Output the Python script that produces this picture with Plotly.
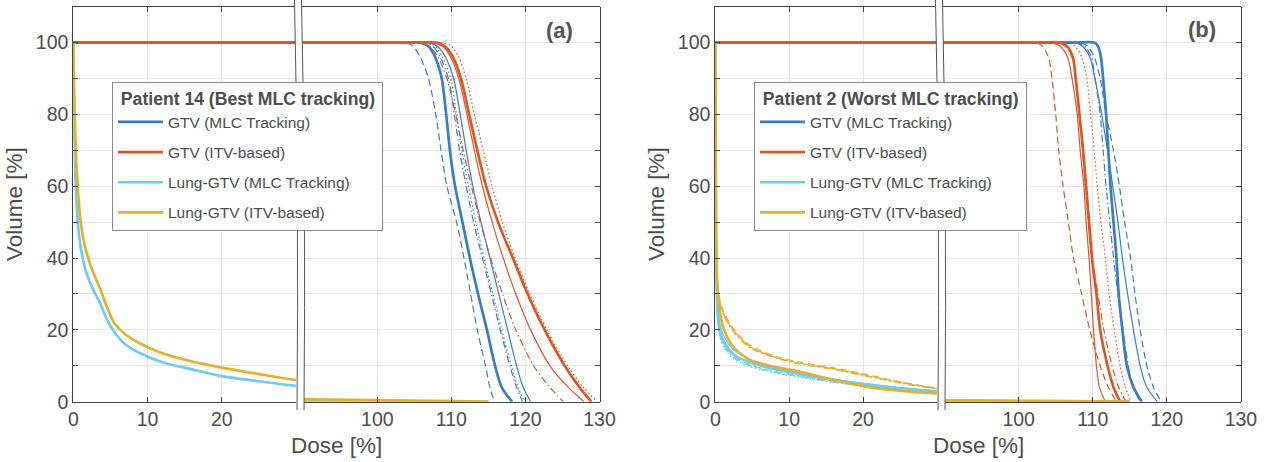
import plotly.graph_objects as go

# ---------------- data ----------------
GTV_LEVELS = [100, 99, 96, 90, 80, 70, 60, 50, 40, 30, 20, 10, 4, 0]

# Panel (a) - Patient 14 : dose [%] at which each GTV curve reaches GTV_LEVELS
A_GTV_MLC_NOMINAL = [105.8, 106.9, 107.8, 108.7, 109.3, 109.8, 110.5, 111.5, 112.5, 113.6, 114.8, 115.9, 116.8, 118.2]
A_GTV_MLC_DASH    = [103.8, 104.8, 105.8, 106.9, 107.9, 108.6, 109.4, 110.7, 111.7, 112.6, 113.5, 114.6, 115.2, 115.8]
A_GTV_MLC_DASHDOT = [106.3, 107.5, 108.5, 109.6, 110.4, 111.1, 112.0, 113.0, 114.2, 115.4, 116.6, 117.9, 118.8, 119.6]
A_GTV_MLC_DOT     = [106.6, 107.8, 108.8, 109.9, 110.7, 111.4, 112.3, 113.3, 114.4, 115.6, 116.8, 118.1, 119.0, 119.9]
A_GTV_MLC_THIN    = [106.8, 108.1, 109.2, 110.3, 111.2, 112.0, 112.9, 114.0, 115.2, 116.4, 117.6, 118.8, 119.7, 120.7]
A_GTV_ITV_NOMINAL = [107.9, 109.1, 110.2, 111.3, 112.4, 113.5, 114.7, 116.3, 118.3, 120.3, 122.6, 125.3, 127.3, 128.9]
A_GTV_ITV_DASHDOT = [105.8, 107.0, 108.2, 109.4, 110.6, 111.6, 112.7, 113.9, 115.3, 116.9, 118.7, 121.1, 123.3, 125.1]
A_GTV_ITV_THIN    = [107.6, 108.8, 109.9, 111.0, 112.1, 113.1, 114.2, 115.5, 117.0, 118.7, 120.7, 123.3, 125.8, 127.9]
A_GTV_ITV_DOT     = [108.8, 110.0, 111.0, 112.0, 113.1, 114.3, 115.5, 116.9, 118.6, 120.6, 122.9, 125.7, 127.8, 129.7]

A_LUNG_DOSE    = [0, 0.1, 0.3, 0.6, 1.0, 1.6, 2.5, 3.6, 4.5, 5.5, 7, 9, 12, 16, 20, 25, 30, 40, 60, 90, 100, 110, 115]
A_LUNG_ITV     = [100, 88, 72, 60, 50, 43, 37, 31.5, 26.5, 22, 18.8, 16.2, 13.5, 11.2, 9.5, 7.7, 6.0, 3.5, 1.5, 0.7, 0.45, 0.15, 0]
A_LUNG_MLC     = [100, 80, 62, 50, 43, 37, 32, 27.5, 23, 19.5, 16, 13.5, 11, 9, 7.1, 5.7, 4.4, 2.5, 0.8, 0.3, 0.15, 0.05, 0]

# Panel (b) - Patient 2
B_GTV_MLC_NOMINAL = [110.2, 110.7, 111.1, 111.4, 111.8, 112.1, 112.4, 112.8, 113.2, 113.5, 114.0, 114.6, 115.5, 116.6]
B_GTV_MLC_THIN    = [107.6, 108.6, 109.6, 110.3, 111.2, 112.0, 112.7, 113.4, 114.0, 114.7, 115.5, 116.4, 117.3, 118.7]
B_GTV_MLC_DASH    = [108.3, 109.3, 110.2, 111.0, 111.8, 112.8, 113.6, 114.3, 115.1, 115.7, 116.4, 117.3, 118.2, 119.2]
B_GTV_MLC_DASHDOT = [107.8, 108.9, 109.8, 110.3, 111.0, 111.4, 111.8, 112.3, 112.8, 113.4, 114.1, 114.8, 115.5, 116.4]
B_GTV_ITV_NOMINAL = [105.6, 106.5, 107.3, 107.7, 108.2, 108.7, 109.1, 109.5, 109.9, 110.5, 111.0, 112.0, 112.8, 113.7]
B_GTV_ITV_THIN    = [104.3, 105.6, 106.6, 107.2, 107.9, 108.3, 108.8, 109.1, 109.5, 109.8, 110.1, 110.5, 110.9, 111.7]
B_GTV_ITV_DASH    = [102.3, 103.2, 104.0, 104.5, 105.0, 105.4, 106.0, 106.7, 107.4, 108.5, 109.6, 111.0, 112.1, 113.2]
B_GTV_ITV_DASHDOT = [105.2, 106.3, 107.2, 107.7, 108.2, 108.6, 109.0, 109.4, 109.9, 110.7, 111.5, 112.6, 113.5, 114.5]
B_GTV_ITV_DOT     = [106.5, 107.6, 108.5, 109.2, 109.7, 110.2, 110.6, 111.1, 111.7, 112.2, 112.9, 113.7, 114.4, 115.2]

B_LUNG_DOSE        = [0, 0.08, 0.2, 0.4, 0.7, 1.1, 2.4, 4.7, 7.8, 11.4, 15.9, 20.4, 24.9, 30, 50, 90, 100, 110, 115]
B_LUNG_ITV_NOMINAL = [100, 60, 36, 29, 24, 20.5, 15.3, 11.6, 9.8, 8.4, 6.1, 4.2, 3.1, 2.3, 1.0, 0.35, 0.25, 0.1, 0]
B_LUNG_ITV_THIN    = [100, 65, 40, 30, 27, 24.6, 20.0, 15.3, 12.6, 10.7, 9.2, 7.3, 5.4, 3.7, 1.5, 0.45, 0.3, 0.12, 0]
B_LUNG_ITV_DASH    = [100, 66, 41, 31, 27.6, 25.2, 20.5, 15.7, 12.9, 11.0, 9.5, 7.6, 5.6, 3.9, 1.6, 0.45, 0.3, 0.12, 0]
B_LUNG_ITV_DASHDOT = [100, 64, 39, 29.6, 26.5, 24.1, 19.6, 15.0, 12.4, 10.5, 9.0, 7.1, 5.2, 3.6, 1.5, 0.45, 0.3, 0.12, 0]
B_LUNG_MLC_NOMINAL = [100, 50, 30, 23, 19.2, 17.0, 13.3, 10.9, 9.2, 7.7, 6.1, 4.8, 3.8, 2.9, 1.2, 0.3, 0.2, 0.08, 0]
B_LUNG_MLC_THIN    = [100, 55, 33, 25, 21.0, 18.6, 14.6, 11.8, 9.8, 8.1, 6.4, 5.0, 3.9, 3.0, 1.2, 0.3, 0.2, 0.08, 0]
B_LUNG_MLC_DASH    = [100, 46, 28, 21.5, 18.3, 16.2, 12.7, 10.3, 8.6, 7.2, 5.7, 4.5, 3.5, 2.7, 1.1, 0.3, 0.2, 0.08, 0]
B_LUNG_MLC_DASHDOT = [100, 44, 27, 21, 17.8, 15.8, 12.3, 10.0, 8.3, 7.0, 5.5, 4.3, 3.4, 2.6, 1.1, 0.3, 0.2, 0.08, 0]
B_LUNG_MLC_DOT     = [100, 42, 26, 20.5, 17.4, 15.4, 12.0, 9.7, 8.1, 6.8, 5.4, 4.2, 3.3, 2.5, 1.0, 0.3, 0.2, 0.08, 0]

X_TICKS_LOW = [0, 10, 20]
X_TICKS_HIGH = [100, 110, 120, 130]
Y_TICKS = [0, 10, 20, 30, 40, 50, 60, 70, 80, 90, 100, 110]
LEGEND_NAMES = ["GTV (MLC Tracking)", "GTV (ITV-based)", "Lung-GTV (MLC Tracking)", "Lung-GTV (ITV-based)"]

# ---------------- styling ----------------
W, H = 1269, 462
FONT = "Liberation Sans, Arial, Helvetica, sans-serif"
TXT = "#4d4d4d"
AX = "#444444"
GRID = "#e6e6e6"
BLUE, RED, CYAN, YELLOW = "#3b7cc2", "#d9572a", "#6fcbf0", "#e2b132"
THICK, THIN = 2.7, 1.2
DASH, DASHDOT, DOT = "7px,4px", "7px,3px,1.5px,3px", "1.5px,2.5px"

def px(x):
    return x / W

def py(y):
    return 1 - y / H

fig = go.Figure()

def add_curve(dose, vol, color, width, dash, xs, yax, name=None, legend=None, rank=None):
    for i, xa in enumerate(xs):
        fig.add_trace(go.Scatter(
            x=dose, y=vol, mode="lines",
            line=dict(color=color, width=width, dash=dash, shape="spline", smoothing=0.8),
            xaxis=xa, yaxis=yax, hoverinfo="skip",
            name=name if name else "", showlegend=(name is not None and i == 0),
            legend=legend, legendgroup=name if name else None, legendrank=rank,
        ))

def gtv(d):
    # flat 100 % plateau up to the shoulder, then the read-off curve
    return [0, d[0] - 3] + d, [100, 100] + GTV_LEVELS

# ----- panel (a)
XA = ["x", "x2"]
for d, c, w, ds in [
    (A_GTV_MLC_DASH, BLUE, THIN, DASH), (A_GTV_MLC_DASHDOT, BLUE, THIN, DASHDOT),
    (A_GTV_MLC_DOT, BLUE, THIN, DOT), (A_GTV_MLC_THIN, BLUE, THIN, "solid"),
]:
    add_curve(*gtv(d), c, w, ds, XA, "y")
add_curve(*gtv(A_GTV_MLC_NOMINAL), BLUE, THICK, "solid", XA, "y", LEGEND_NAMES[0], "legend", 1)
for d, c, w, ds in [
    (A_GTV_ITV_DASHDOT, RED, THIN, DASHDOT), (A_GTV_ITV_THIN, RED, THIN, "solid"),
    (A_GTV_ITV_DOT, RED, THIN, DOT),
]:
    add_curve(*gtv(d), c, w, ds, XA, "y")
add_curve(*gtv(A_GTV_ITV_NOMINAL), RED, THICK, "solid", XA, "y", LEGEND_NAMES[1], "legend", 2)
add_curve(A_LUNG_DOSE, A_LUNG_MLC, CYAN, THICK, "solid", XA, "y", LEGEND_NAMES[2], "legend", 3)
add_curve(A_LUNG_DOSE, A_LUNG_ITV, YELLOW, THICK, "solid", XA, "y", LEGEND_NAMES[3], "legend", 4)

# ----- panel (b)
XB = ["x3", "x4"]
for d, c, w, ds in [
    (B_GTV_MLC_THIN, BLUE, THIN, "solid"), (B_GTV_MLC_DASH, BLUE, THIN, DASH),
    (B_GTV_MLC_DASHDOT, BLUE, THIN, DASHDOT),
]:
    add_curve(*gtv(d), c, w, ds, XB, "y2")
add_curve(*gtv(B_GTV_MLC_NOMINAL), BLUE, THICK, "solid", XB, "y2", LEGEND_NAMES[0], "legend2", 1)
for d, c, w, ds in [
    (B_GTV_ITV_THIN, RED, THIN, "solid"), (B_GTV_ITV_DASH, RED, THIN, DASH),
    (B_GTV_ITV_DASHDOT, RED, THIN, DASHDOT), (B_GTV_ITV_DOT, RED, THIN, DOT),
]:
    add_curve(*gtv(d), c, w, ds, XB, "y2")
add_curve(*gtv(B_GTV_ITV_NOMINAL), RED, THICK, "solid", XB, "y2", LEGEND_NAMES[1], "legend2", 2)
for v, ds in [(B_LUNG_MLC_THIN, "solid"), (B_LUNG_MLC_DASH, DASH),
              (B_LUNG_MLC_DASHDOT, DASHDOT), (B_LUNG_MLC_DOT, DOT)]:
    add_curve(B_LUNG_DOSE, v, CYAN, THIN, ds, XB, "y2")
add_curve(B_LUNG_DOSE, B_LUNG_MLC_NOMINAL, CYAN, THICK, "solid", XB, "y2", LEGEND_NAMES[2], "legend2", 3)
for v, ds in [(B_LUNG_ITV_THIN, "solid"), (B_LUNG_ITV_DASH, DASH), (B_LUNG_ITV_DASHDOT, DASHDOT)]:
    add_curve(B_LUNG_DOSE, v, YELLOW, THIN, ds, XB, "y2")
add_curve(B_LUNG_DOSE, B_LUNG_ITV_NOMINAL, YELLOW, THICK, "solid", XB, "y2", LEGEND_NAMES[3], "legend2", 4)

# empty traces so the right-hand frame axes exist
fig.add_trace(go.Scatter(x=[None], y=[None], xaxis="x2", yaxis="y3", showlegend=False, hoverinfo="skip"))
fig.add_trace(go.Scatter(x=[None], y=[None], xaxis="x4", yaxis="y4", showlegend=False, hoverinfo="skip"))

# ---------------- axes ----------------
TICKFONT = dict(family=FONT, size=19.5, color=TXT)
common_x = dict(showline=True, linecolor=AX, linewidth=1, mirror="ticks", ticks="inside",
                ticklen=5, tickcolor=AX, showgrid=True, gridcolor=GRID, zeroline=False,
                tickfont=TICKFONT, fixedrange=True, automargin=False)
Y_TEXT = [str(v) if v % 20 == 0 and v <= 100 else "" for v in Y_TICKS]
common_y = dict(range=[0, 110], domain=[py(401.7), py(6.7)], showline=True, linecolor=AX, linewidth=1,
                ticks="inside", ticklen=5, tickcolor=AX, tickvals=Y_TICKS, ticktext=Y_TEXT,
                showgrid=True, gridcolor=GRID, zeroline=False, tickfont=TICKFONT, fixedrange=True,
                automargin=False)
right_y = dict(range=[0, 110], showline=True, linecolor=AX, linewidth=1, ticks="inside", ticklen=5,
               tickcolor=AX, tickvals=Y_TICKS, showticklabels=False, showgrid=False, zeroline=False,
               side="right", anchor="free", fixedrange=True, automargin=False)

fig.update_layout(
    xaxis=dict(common_x, domain=[px(73.3), px(296)], range=[0, 30], tickvals=X_TICKS_LOW, anchor="y"),
    xaxis2=dict(common_x, domain=[px(301.7), px(599.5)], range=[89.79, 130], tickvals=X_TICKS_HIGH, anchor="y"),
    xaxis3=dict(common_x, domain=[px(715.3), px(937)], range=[0, 30], tickvals=X_TICKS_LOW, anchor="y2"),
    xaxis4=dict(common_x, domain=[px(943.3), px(1240.9)], range=[89.82, 130], tickvals=X_TICKS_HIGH, anchor="y2"),
    yaxis=dict(common_y, anchor="x", title=dict(text="Volume [%]", standoff=6,
               font=dict(family=FONT, size=22.5, color=TXT))),
    yaxis2=dict(common_y, anchor="x3", title=dict(text="Volume [%]", standoff=6,
                font=dict(family=FONT, size=22.5, color=TXT))),
    yaxis3=dict(right_y, overlaying="y", position=px(599.5)),
    yaxis4=dict(right_y, overlaying="y2", position=px(1240.9)),
)

# ---------------- legends ----------------
def legend_cfg(x, title):
    return dict(x=px(x), y=py(81.5), xanchor="left", yanchor="top", bgcolor="white",
                bordercolor="#8a8a8a", borderwidth=1, tracegroupgap=7, itemwidth=45,
                font=dict(family=FONT, size=15.5, color=TXT),
                title=dict(text="<b>\u2004" + title + "\u2005</b>",
                           font=dict(family=FONT, size=17.6, color=TXT)))

fig.update_layout(
    legend=legend_cfg(112, "Patient 14 (Best MLC tracking)"),
    legend2=legend_cfg(754, "Patient 2 (Worst MLC tracking)"),
)

# ---------------- axis breaks ----------------
shapes = []
for xl, xr in [(294.5, 301.5), (935.5, 942.5)]:
    top, mid, bot = 0, 205, 410
    lt, lc, lb = (px(xl), py(top)), (px(xl + 4.5), py(mid)), (px(xl + 2.5), py(bot))
    rt, rc, rb = (px(xr), py(top)), (px(xr + 4.5), py(mid)), (px(xr + 2.5), py(bot))
    fill = (f"M{lt[0]},{lt[1]} Q{lc[0]},{lc[1]} {lb[0]},{lb[1]} L{rb[0]},{rb[1]} "
            f"Q{rc[0]},{rc[1]} {rt[0]},{rt[1]} Z")
    shapes.append(dict(type="path", xref="paper", yref="paper", path=fill,
                       fillcolor="white", line=dict(width=0), layer="above"))
    for t, c, b in [(lt, lc, lb), (rt, rc, rb)]:
        shapes.append(dict(type="path", xref="paper", yref="paper",
                           path=f"M{t[0]},{t[1]} Q{c[0]},{c[1]} {b[0]},{b[1]}",
                           line=dict(color="#555555", width=1), layer="above"))

annotations = [
    dict(text="Dose [%]", x=px(336.4), y=py(445), xref="paper", yref="paper", showarrow=False,
         font=dict(family=FONT, size=22.5, color=TXT), xanchor="center", yanchor="middle"),
    dict(text="Dose [%]", x=px(978.1), y=py(445), xref="paper", yref="paper", showarrow=False,
         font=dict(family=FONT, size=22.5, color=TXT), xanchor="center", yanchor="middle"),
    dict(text="<b>(a)</b>", x=px(559), y=py(30), xref="paper", yref="paper", showarrow=False,
         font=dict(family=FONT, size=22, color="#555555"), xanchor="center", yanchor="middle"),
    dict(text="<b>(b)</b>", x=px(1202), y=py(29), xref="paper", yref="paper", showarrow=False,
         font=dict(family=FONT, size=22, color="#555555"), xanchor="center", yanchor="middle"),
]

fig.update_layout(
    width=W, height=H, margin=dict(l=0, r=0, t=0, b=0),
    paper_bgcolor="white", plot_bgcolor="white",
    shapes=shapes, annotations=annotations,
    font=dict(family=FONT, color=TXT), hovermode=False,
)

fig.write_html(
    "out.html",
    config={"displayModeBar": False},
    post_script="document.body.style.margin='0px';document.body.style.overflow='hidden';",
)
